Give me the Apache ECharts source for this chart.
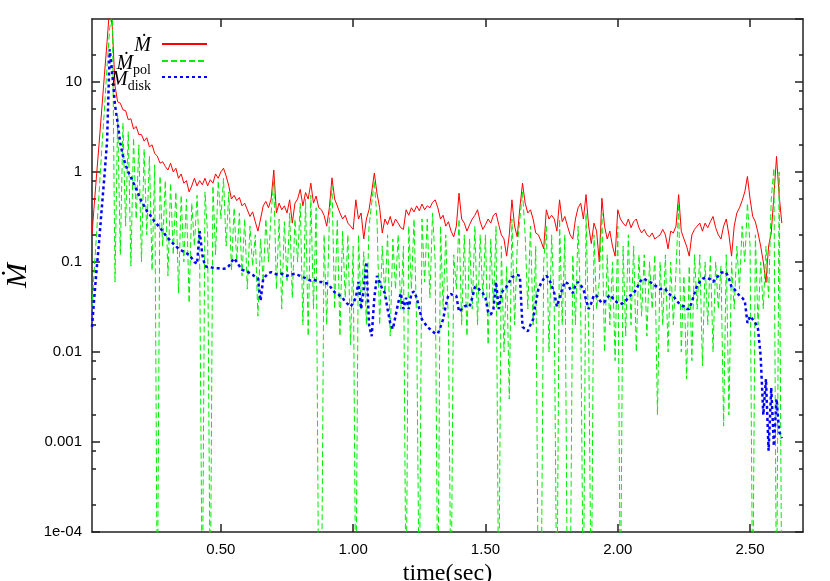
<!DOCTYPE html>
<html>
<head>
<meta charset="utf-8">
<title>Mdot vs time</title>
<script src="https://cdn.jsdelivr.net/npm/echarts@6.0.0/dist/echarts.min.js"></script>
<style>
  html, body { margin: 0; padding: 0; background: #fff; }
  #chart { width: 830px; height: 581px; }
</style>
</head>
<body>
<div id="chart"></div>
<script>
// time (sec), shared by the three curves
var time = [
  0.013, 0.02, 0.03, 0.04, 0.05, 0.06, 0.07, 0.08, 0.09,
  0.10, 0.11, 0.12, 0.13, 0.14, 0.15, 0.16, 0.17, 0.18, 0.19,
  0.20, 0.21, 0.22, 0.23, 0.24, 0.25, 0.26, 0.27, 0.28, 0.29,
  0.30, 0.31, 0.32, 0.33, 0.34, 0.35, 0.36, 0.37, 0.38, 0.39,
  0.40, 0.41, 0.42, 0.43, 0.44, 0.45, 0.46, 0.47, 0.48, 0.49,
  0.50, 0.51, 0.52, 0.53, 0.54, 0.55, 0.56, 0.57, 0.58, 0.59,
  0.60, 0.61, 0.62, 0.63, 0.64, 0.65, 0.66, 0.67, 0.68, 0.69,
  0.70, 0.71, 0.72, 0.73, 0.74, 0.75, 0.76, 0.77, 0.78, 0.79,
  0.80, 0.81, 0.82, 0.83, 0.84, 0.85, 0.86, 0.87, 0.88, 0.89,
  0.90, 0.91, 0.92, 0.93, 0.94, 0.95, 0.96, 0.97, 0.98, 0.99,
  1.00, 1.01, 1.02, 1.03, 1.04, 1.05, 1.06, 1.07, 1.08, 1.09,
  1.10, 1.11, 1.12, 1.13, 1.14, 1.15, 1.16, 1.17, 1.18, 1.19,
  1.20, 1.21, 1.22, 1.23, 1.24, 1.25, 1.26, 1.27, 1.28, 1.29,
  1.30, 1.31, 1.32, 1.33, 1.34, 1.35, 1.36, 1.37, 1.38, 1.39,
  1.40, 1.41, 1.42, 1.43, 1.44, 1.45, 1.46, 1.47, 1.48, 1.49,
  1.50, 1.51, 1.52, 1.53, 1.54, 1.55, 1.56, 1.57, 1.58, 1.59,
  1.60, 1.61, 1.62, 1.63, 1.64, 1.65, 1.66, 1.67, 1.68, 1.69,
  1.70, 1.71, 1.72, 1.73, 1.74, 1.75, 1.76, 1.77, 1.78, 1.79,
  1.80, 1.81, 1.82, 1.83, 1.84, 1.85, 1.86, 1.87, 1.88, 1.89,
  1.90, 1.91, 1.92, 1.93, 1.94, 1.95, 1.96, 1.97, 1.98, 1.99,
  2.00, 2.01, 2.02, 2.03, 2.04, 2.05, 2.06, 2.07, 2.08, 2.09,
  2.10, 2.11, 2.12, 2.13, 2.14, 2.15, 2.16, 2.17, 2.18, 2.19,
  2.20, 2.21, 2.22, 2.23, 2.24, 2.25, 2.26, 2.27, 2.28, 2.29,
  2.30, 2.31, 2.32, 2.33, 2.34, 2.35, 2.36, 2.37, 2.38, 2.39,
  2.40, 2.41, 2.42, 2.43, 2.44, 2.45, 2.46, 2.47, 2.48, 2.49,
  2.50, 2.51, 2.52, 2.53, 2.54, 2.55, 2.56, 2.57, 2.58, 2.59,
  2.60, 2.61, 2.62
];

// total accretion rate
var mdot = [
  0.2, 0.38, 0.9, 2.1, 5, 12, 28, 70, 40,
  9, 6.0, 5.8, 4.9, 4.8, 3.8, 3.9, 3.0, 3.2, 2.6,
  2.6, 2.2, 2.4, 1.9, 2.0, 1.6, 1.5, 1.25, 1.3, 1.15,
  1.05, 1.25, 1.0, 1.1, 0.85, 0.95, 0.75, 0.8, 0.6, 0.7,
  0.85, 0.7, 0.8, 0.72, 0.85, 0.7, 0.82, 0.75, 0.95, 0.85,
  1.0, 1.1, 0.9, 0.7, 0.5, 0.55, 0.48, 0.52, 0.42, 0.45,
  0.38, 0.32, 0.36, 0.28, 0.22, 0.3, 0.42, 0.47, 0.4, 0.5,
  1.05, 0.35, 0.45, 0.38, 0.42, 0.35, 0.49, 0.27, 0.45, 0.5,
  0.64, 0.42, 0.59, 0.5, 0.75, 0.45, 0.54, 0.4, 0.38, 0.33,
  0.25, 0.4, 0.86, 0.5, 0.42, 0.35, 0.3, 0.33, 0.27, 0.25,
  0.23, 0.49, 0.3, 0.35, 0.18, 0.3, 0.38, 0.6, 0.97, 0.58,
  0.4, 0.21, 0.3, 0.26, 0.32, 0.25, 0.3, 0.27, 0.24, 0.23,
  0.38, 0.33, 0.4, 0.36, 0.42, 0.37, 0.44, 0.38, 0.42, 0.4,
  0.46, 0.49, 0.4, 0.3, 0.33, 0.25, 0.28, 0.22, 0.19, 0.25,
  0.58, 0.3, 0.27, 0.22, 0.26, 0.3, 0.33, 0.38, 0.28, 0.23,
  0.26, 0.3, 0.27, 0.33, 0.35, 0.26, 0.2, 0.18, 0.116, 0.2,
  0.49, 0.25, 0.19, 0.4, 0.75, 0.45, 0.35, 0.38, 0.3, 0.21,
  0.2, 0.17, 0.14, 0.38, 0.3, 0.33, 0.3, 0.22, 0.49, 0.28,
  0.32, 0.25, 0.2, 0.18, 0.3, 0.4, 0.45, 0.3, 0.56, 0.25,
  0.16, 0.27, 0.22, 0.1, 0.51, 0.25, 0.18, 0.22, 0.15, 0.116,
  0.38, 0.3, 0.27, 0.25, 0.3, 0.24, 0.28, 0.3, 0.24, 0.21,
  0.23, 0.2, 0.19, 0.21, 0.18, 0.19, 0.2, 0.23, 0.2, 0.14,
  0.22, 0.21, 0.25, 0.56, 0.22, 0.18, 0.15, 0.116, 0.2, 0.23,
  0.25, 0.27, 0.22, 0.27, 0.24, 0.28, 0.32, 0.24, 0.2, 0.18,
  0.25, 0.3, 0.2, 0.116, 0.25, 0.35, 0.4, 0.48, 0.6, 0.89,
  0.5, 0.32, 0.28, 0.21, 0.15, 0.1, 0.059, 0.15, 0.21, 0.54,
  1.49, 0.54, 0.27
];

// polar outflow part (1e-5 = dropped below the plot floor)
var mdotPol = [
  0.03, 0.07, 0.2, 0.6, 1.8, 5, 15, 40, 60,
  0.06, 4.2, 0.12, 3.5, 0.25, 2.8, 0.09, 2.4, 0.3, 2.0,
  0.1, 1.8, 0.2, 1.5, 0.08, 1.2, 1e-5, 0.9, 0.15, 0.8,
  0.07, 0.75, 0.12, 0.6, 0.045, 0.55, 0.1, 0.5, 0.035, 0.45,
  0.15, 0.55, 0.1, 1e-5, 0.6, 0.2, 1e-5, 0.7, 0.12, 0.8,
  0.3, 0.85, 0.15, 0.6, 0.08, 0.4, 0.1, 0.35, 0.07, 0.3,
  0.05, 0.25, 0.09, 0.2, 0.025, 0.18, 0.06, 0.3, 0.1, 0.35,
  0.8, 0.05, 0.3, 0.03, 0.28, 0.06, 0.35, 0.04, 0.3, 0.1,
  0.45, 0.02, 0.5, 0.015, 0.55, 0.03, 0.4, 1e-5, 1e-5, 0.2,
  0.02, 0.3, 0.7, 0.03, 0.3, 0.015, 0.22, 0.04, 0.2, 0.012,
  0.15, 1e-5, 0.2, 0.03, 0.13, 0.02, 0.25, 0.45, 0.8, 0.3,
  0.02, 0.15, 0.04, 0.2, 0.015, 0.18, 0.05, 0.2, 0.03, 0.15,
  1e-5, 0.25, 0.05, 0.3, 0.02, 1e-5, 0.3, 0.06, 0.3, 0.04,
  0.35, 0.1, 1e-5, 0.25, 0.03, 0.2, 0.02, 1e-5, 0.12, 0.05,
  0.3, 0.02, 0.2, 0.015, 0.18, 0.03, 0.25, 0.02, 0.2, 0.04,
  0.2, 0.012, 0.18, 0.03, 0.25, 1e-5, 0.15, 0.01, 0.09, 0.003,
  0.3, 0.02, 0.15, 0.3, 0.6, 0.2, 0.03, 0.25, 0.02, 0.15,
  1e-5, 1e-5, 0.1, 0.25, 0.01, 0.2, 0.03, 1e-5, 0.3, 0.02,
  0.2, 1e-5, 1e-5, 0.12, 0.02, 0.25, 0.03, 1e-5, 0.35, 0.015,
  1e-5, 0.2, 0.03, 0.06, 0.35, 0.01, 0.12, 0.02, 0.1, 0.008,
  0.25, 1e-5, 0.15, 0.015, 0.2, 0.02, 0.15, 0.01, 0.12, 0.025,
  0.12, 0.015, 0.1, 0.03, 0.12, 0.002, 0.1, 0.02, 0.12, 0.01,
  0.1, 0.02, 0.08, 0.45, 0.01, 0.07, 0.005, 0.09, 0.008, 0.12,
  0.03, 0.12, 0.007, 0.1, 0.02, 0.12, 0.01, 0.1, 0.03, 0.09,
  0.0015, 0.12, 0.002, 0.1, 0.03, 0.15, 0.05, 0.25, 0.1, 0.45,
  0.15, 1e-5, 0.2, 0.02, 0.1, 0.03, 0.15, 0.04, 0.5, 1.1,
  1e-5, 1.0, 1e-5
];

// disk part
var mdotDisk = [
  0.019, 0.035, 0.08, 0.17, 0.4, 0.9, 2.2, 23, 12,
  5.5, 3.5, 2.1, 1.5, 1.2, 1.0, 0.87, 0.75, 0.65, 0.55,
  0.47, 0.42, 0.37, 0.34, 0.31, 0.28, 0.26, 0.24, 0.22, 0.2,
  0.185, 0.17, 0.16, 0.15, 0.14, 0.135, 0.13, 0.125, 0.12, 0.11,
  0.1, 0.095, 0.22, 0.12, 0.09, 0.088, 0.088, 0.086, 0.085, 0.085,
  0.084, 0.084, 0.085, 0.09, 0.1, 0.11, 0.1, 0.09, 0.082, 0.08,
  0.078, 0.075, 0.072, 0.068, 0.066, 0.037, 0.065, 0.07, 0.075, 0.077,
  0.075, 0.073, 0.072, 0.074, 0.072, 0.07, 0.072, 0.073, 0.074, 0.072,
  0.07, 0.068, 0.066, 0.064, 0.062, 0.064, 0.062, 0.06, 0.06, 0.058,
  0.058, 0.055, 0.05, 0.046, 0.045, 0.042, 0.04, 0.036, 0.034, 0.032,
  0.035, 0.04, 0.06, 0.03, 0.05, 0.1, 0.02, 0.015, 0.04, 0.07,
  0.06, 0.05, 0.045, 0.03, 0.021, 0.018, 0.025, 0.035, 0.045, 0.03,
  0.04, 0.03, 0.045, 0.047, 0.04, 0.03, 0.023, 0.021, 0.019, 0.018,
  0.017, 0.016, 0.016, 0.019, 0.023, 0.033, 0.043, 0.044, 0.042, 0.042,
  0.028, 0.03, 0.032, 0.033, 0.032, 0.04, 0.053, 0.052, 0.048, 0.045,
  0.04, 0.028, 0.026, 0.03, 0.06, 0.03, 0.045, 0.05, 0.053, 0.06,
  0.068, 0.07, 0.072, 0.07, 0.019, 0.018, 0.017, 0.02, 0.023, 0.035,
  0.05, 0.058, 0.065, 0.07, 0.065, 0.055, 0.045, 0.032, 0.04, 0.05,
  0.06, 0.058, 0.05, 0.045, 0.055, 0.06, 0.055, 0.05, 0.038, 0.03,
  0.035, 0.043, 0.042, 0.038, 0.035, 0.036, 0.04, 0.043, 0.04, 0.037,
  0.035, 0.034, 0.035, 0.037, 0.04, 0.043, 0.045, 0.05, 0.057, 0.064,
  0.065, 0.062, 0.06, 0.058, 0.055, 0.053, 0.05, 0.05, 0.05, 0.045,
  0.043, 0.042, 0.038, 0.035, 0.033, 0.032, 0.03, 0.03, 0.036, 0.045,
  0.055, 0.06, 0.065, 0.067, 0.066, 0.064, 0.06, 0.065, 0.07, 0.076,
  0.077, 0.076, 0.065, 0.053, 0.05, 0.046, 0.042, 0.04, 0.037, 0.021,
  0.025, 0.023, 0.021, 0.018, 0.009, 0.002, 0.005, 0.0008, 0.004, 0.0009,
  0.003, 0.0013, 0.0011
];

var xTickValues = [0.5, 1.0, 1.5, 2.0, 2.5];
var xTickLabels = ["0.50", "1.00", "1.50", "2.00", "2.50"];
var yTickValues = [1e-4, 1e-3, 1e-2, 1e-1, 1, 10];
var yTickLabels = ["1e-04", "0.001", "0.01", "0.1", "1", "10"];
var yMinorTicks = [2e-4, 5e-4, 8e-4, 2e-3, 5e-3, 8e-3, 0.02, 0.05, 0.08, 0.2, 0.5, 0.8, 2, 5, 8, 20];

var X_MIN = 0.013, X_MAX = 2.7, Y_MIN = 1e-4, Y_MAX = 50;

function pairs(values) {
  return time.map(function (t, i) { return [t, values[i]]; });
}

var serif = "'Liberation Serif', 'DejaVu Serif', serif";
var sans = "'Liberation Sans', Arial, sans-serif";

function legendBox(name, top, label) {
  return {
    data: [name],
    right: 622,
    top: top,
    orient: "horizontal",
    align: "right",
    padding: 0,
    itemWidth: 45,
    itemHeight: 12,
    selectedMode: false,
    itemStyle: { opacity: 0 },
    formatter: function () { return label; },
    textStyle: {
      rich: {
        m: { fontFamily: serif, fontStyle: "italic", fontSize: 20, lineHeight: 20, color: "#000", padding: [4, 6, 0, 0] },
        n: { fontFamily: serif, fontStyle: "italic", fontSize: 20, lineHeight: 20, color: "#000", padding: [6, 0, 0, 0] },
        s: { fontFamily: serif, fontSize: 14, lineHeight: 14, color: "#000", padding: [18, 6, 0, 0] }
      }
    }
  };
}

function xAxisBase(pos) {
  return {
    type: "value",
    position: pos,
    min: X_MIN,
    max: X_MAX,
    axisLine: { show: true, onZero: false, lineStyle: { color: "#222", width: 1.5 } },
    axisTick: { show: true, inside: true, length: 8, customValues: xTickValues, lineStyle: { color: "#222", width: 1.5 } },
    axisLabel: { show: false },
    splitLine: { show: false }
  };
}

function yLogBase(pos) {
  return {
    type: "log",
    logBase: 10,
    position: pos,
    min: Y_MIN,
    max: Y_MAX,
    axisLine: { show: true, onZero: false, lineStyle: { color: "#222", width: 1.5 } },
    axisTick: { show: true, inside: true, length: 8, lineStyle: { color: "#222", width: 1.5 } },
    axisLabel: { show: false },
    splitLine: { show: false }
  };
}

// minor ticks (2, 5, 8 of each decade), on a helper axis in log10 units
function yMinorBase(pos) {
  return {
    type: "value",
    position: pos,
    min: Math.log10(Y_MIN),
    max: Math.log10(Y_MAX),
    axisLine: { show: false, onZero: false },
    axisTick: { show: true, inside: true, length: 4, customValues: yMinorTicks.map(Math.log10), lineStyle: { color: "#222", width: 1.5 } },
    axisLabel: { show: false },
    splitLine: { show: false }
  };
}

var xBottom = xAxisBase("bottom");
xBottom.name = "time(sec)";
xBottom.nameLocation = "middle";
xBottom.nameGap = 28;
xBottom.nameTextStyle = { fontFamily: serif, fontSize: 24, color: "#000" };
xBottom.axisLabel = {
  show: true,
  customValues: xTickValues,
  margin: 10,
  fontFamily: sans,
  fontSize: 15,
  color: "#000",
  formatter: function (v) {
    var i = xTickValues.findIndex(function (x) { return Math.abs(x - v) < 1e-6; });
    return i < 0 ? "" : xTickLabels[i];
  }
};

var yLeft = yLogBase("left");
yLeft.name = "\u1E40";
yLeft.nameLocation = "middle";
yLeft.nameRotate = 90;
yLeft.nameGap = 45;
yLeft.nameTextStyle = { fontFamily: serif, fontStyle: "italic", fontSize: 30, color: "#000" };
yLeft.axisLabel = {
  show: true,
  margin: 10,
  showMaxLabel: false,
  fontFamily: sans,
  fontSize: 15,
  color: "#000",
  formatter: function (v) {
    var e = Math.round(Math.log10(v));
    var i = yTickValues.findIndex(function (y) { return Math.round(Math.log10(y)) === e; });
    return i < 0 ? "" : yTickLabels[i];
  }
};

var myChart = echarts.init(document.getElementById("chart"));
myChart.setOption({
  animation: false,
  backgroundColor: "#fff",
  grid: { left: 92, right: 27, top: 19, bottom: 49, containLabel: false, outerBoundsMode: "none" },
  legend: [
    legendBox("Mdot", 32, "{m|\u1E40}"),
    legendBox("Mdot_pol", 45, "{n|\u1E40}{s|pol}"),
    legendBox("Mdot_disk", 61, "{n|\u1E40}{s|disk}")
  ],
  xAxis: [xBottom, xAxisBase("top")],
  yAxis: [yLeft, yMinorBase("left"), yLogBase("right"), yMinorBase("right")],
  series: [
    {
      name: "Mdot",
      type: "line",
      xAxisIndex: 0,
      yAxisIndex: 0,
      data: pairs(mdot),
      symbol: "none",
      itemStyle: { color: "#ff0000" },
      lineStyle: { color: "#ff0000", width: 1 }
    },
    {
      name: "Mdot_pol",
      type: "line",
      xAxisIndex: 0,
      yAxisIndex: 0,
      data: pairs(mdotPol),
      symbol: "none",
      itemStyle: { color: "#00ee00" },
      lineStyle: { color: "#00ee00", width: 1, type: [6, 3] }
    },
    {
      name: "Mdot_disk",
      type: "line",
      xAxisIndex: 0,
      yAxisIndex: 0,
      data: pairs(mdotDisk),
      symbol: "none",
      itemStyle: { color: "#0000ff" },
      lineStyle: { color: "#0000ff", width: 2.5, type: [3, 3] }
    }
  ]
});
</script>
</body>
</html>
